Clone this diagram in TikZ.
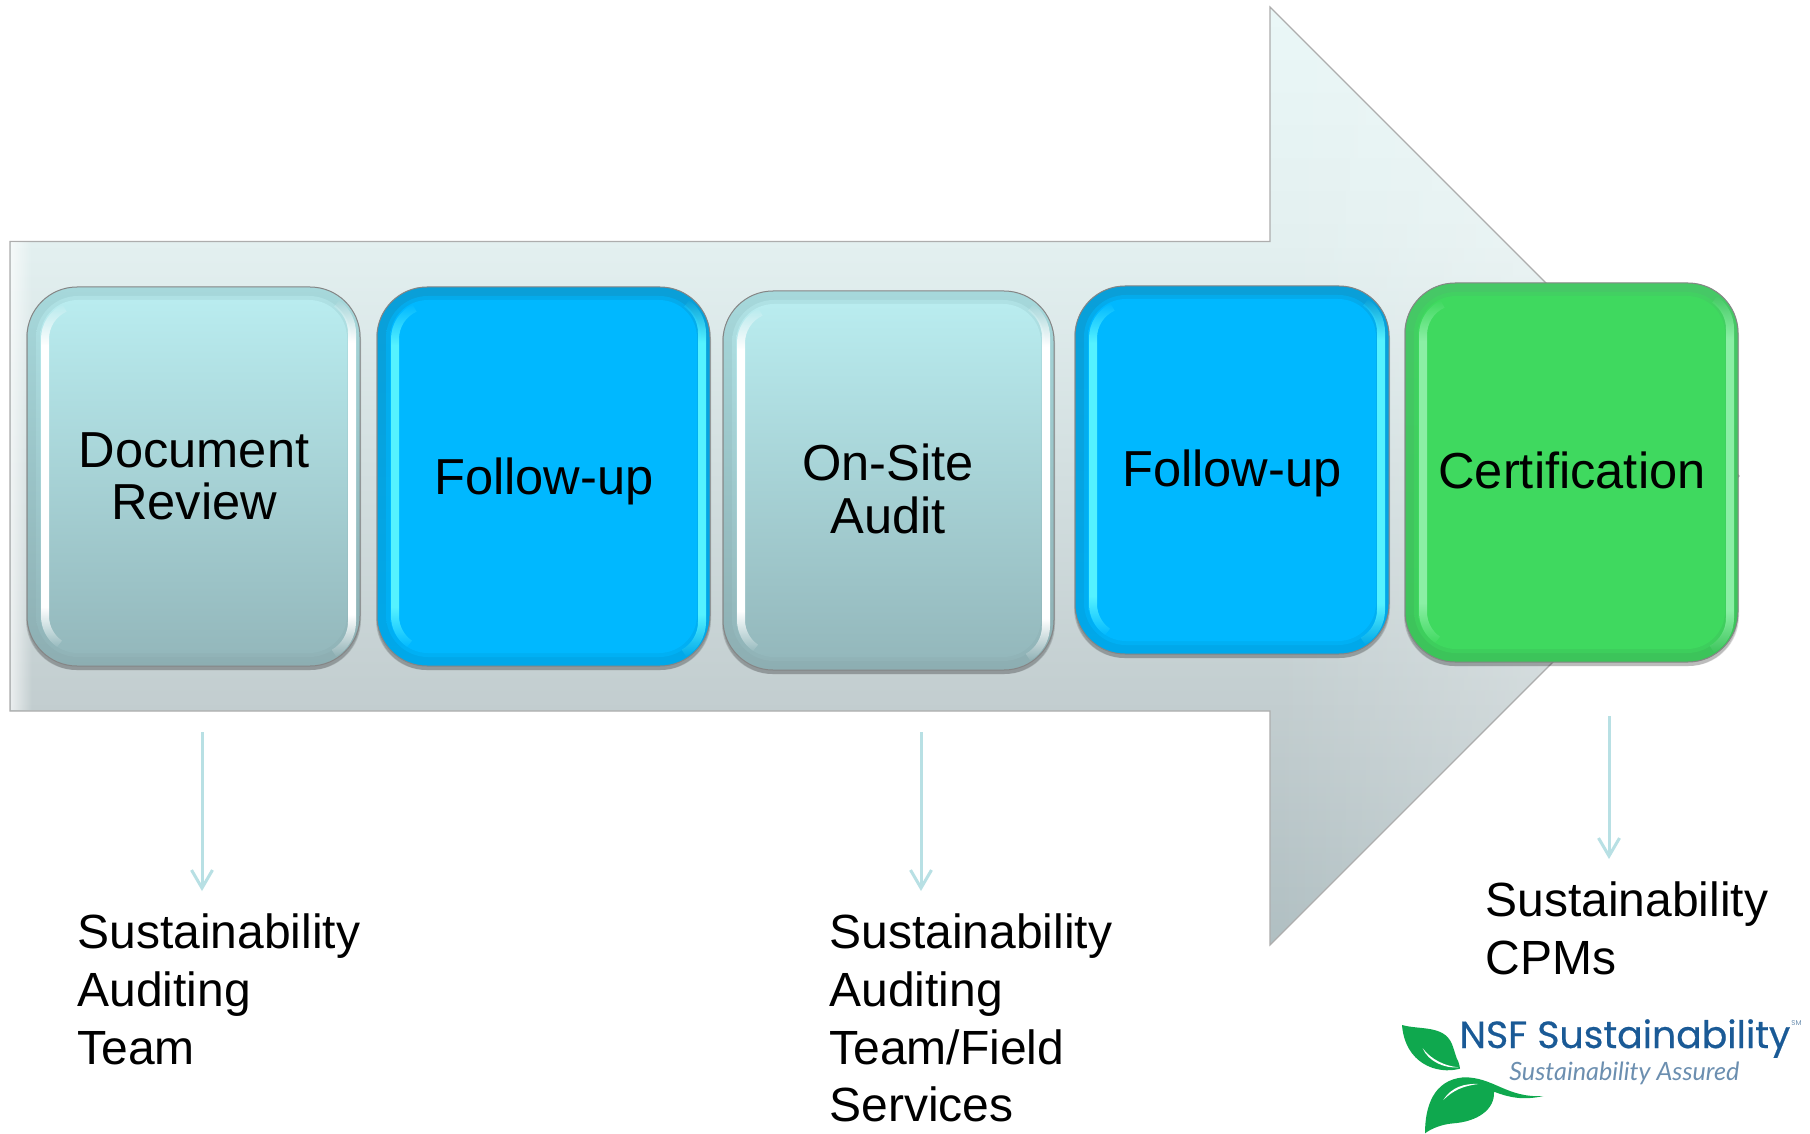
\documentclass[tikz,border=0pt]{standalone}
\usepackage{fontspec}
\setmainfont{Liberation Sans}
\newfontfamily\logofont{Poppins}
\newfontfamily\logoboldfont[FakeBold=0.5]{Poppins}
\newfontfamily\tagfont{Lato}
\usetikzlibrary{fadings,arrows.meta}
\pgfdeclareverticalshading{sideshade}{100bp}{color(0bp)=(pgftransparent!100); color(25bp)=(pgftransparent!100); color(31bp)=(pgftransparent!0); color(69bp)=(pgftransparent!0); color(75bp)=(pgftransparent!100); color(100bp)=(pgftransparent!100)}
\pgfdeclarefading{sidefade}{\pgfuseshading{sideshade}}
\tikzfading[name=headfade,left color=transparent!100,right color=transparent!55]
\tikzfading[name=edgefade,left color=transparent!35,right color=transparent!100]
\definecolor{arrowline}{HTML}{B8E0E4}
\definecolor{leafgreen}{HTML}{0FA84E}
\definecolor{nsfblue}{HTML}{1A5A96}
\definecolor{tagblue}{HTML}{6C8FB0}
\pgfdeclareverticalshading{arrowshade}{100bp}{rgb(0bp)=(0.69,0.749,0.761); rgb(25bp)=(0.69,0.749,0.761); rgb(37.5bp)=(0.761,0.804,0.812); rgb(62.5bp)=(0.89,0.941,0.941); rgb(75bp)=(0.918,0.969,0.969); rgb(100bp)=(0.918,0.969,0.969)}
\definecolor{tealft}{HTML}{B9ECEF}
\definecolor{tealfb}{HTML}{94B8BC}
\definecolor{tealrt}{HTML}{A6D8DB}
\definecolor{tealrb}{HTML}{8DAEB2}
\definecolor{bluef}{HTML}{00B8FF}
\definecolor{bluert}{HTML}{0A9FD8}
\definecolor{bluerb}{HTML}{00A8EA}
\definecolor{blueglow}{HTML}{55F2FF}
\definecolor{greenf}{HTML}{3FD95F}
\definecolor{greenrt}{HTML}{46C866}
\definecolor{greenrb}{HTML}{3CC45A}
\definecolor{greenglow}{HTML}{8BEFA5}
\tikzset{
  x=0.5pt,y=-0.5pt,
  arrowbody/.style={draw=black!32,line width=0.6pt,shading=arrowshade},
  rimbox/.style={inner sep=0pt,rounded corners=25pt,draw=black!48,line width=0.5pt,shading=axis},
  facebox/.style={inner sep=0pt,rounded corners=19pt,shading=axis},
  softbox/.style={inner sep=0pt,rounded corners=21pt,shading=axis,opacity=.5},
  boxshadow/.style={inner sep=0pt,rounded corners=25pt,fill=black,opacity=.14},
  boxlabel/.style={inner sep=0pt,anchor=base,font=\fontsize{25.3}{26}\selectfont,text=black},
  sidelabel/.style={inner sep=0pt,anchor=base west,font=\fontsize{24}{29}\selectfont,text=black},
  downarrow/.style={draw=arrowline,line width=1.5pt,-{Straight Barb[length=9pt,width=10.5pt,line width=1.5pt]}},
  glow/.style={line width=4pt,path fading=sidefade,fit fading=true},
}
\newcommand\bevelbox[9]{%
  \pgfmathsetmacro\bw{(#4-#2)*0.5}\pgfmathsetmacro\bh{(#5-#3)*0.5}%
  \pgfmathsetmacro\cx{(#2+#4)/2}\pgfmathsetmacro\cy{(#3+#5)/2}%
  \pgfmathsetmacro\fw{\bw-13}\pgfmathsetmacro\fh{\bh-13}%
  \pgfmathsetmacro\mw{\bw-9}\pgfmathsetmacro\mh{\bh-9}%
  \node[boxshadow,minimum width=\bw pt,minimum height=\bh pt] (#1s) at (\cx,\cy+4) {};
  \node[boxshadow,minimum width=\bw pt+1pt,minimum height=\bh pt+1pt] (#1ss) at (\cx,\cy+3) {};
  \node[rimbox,minimum width=\bw pt,minimum height=\bh pt,top color=#6,bottom color=#7] (#1) at (\cx,\cy) {};
  \node[softbox,minimum width=\mw pt,minimum height=\mh pt,top color=#8,bottom color=#9] (#1m) at (\cx,\cy) {};
  \node[facebox,minimum width=\fw pt,minimum height=\fh pt,top color=#8,bottom color=#9] (#1f) at (\cx,\cy) {};
}
\newcommand\bevelglow[5]{%
  \draw[glow,draw=#5] (#1+18+34,#4-50) ++(125:34) arc[start angle=125,end angle=180,radius=34] -- (#1+18,#2+52) arc[start angle=180,end angle=245,radius=34];
  \draw[glow,draw=#5] (#3-8-36,#4-44) ++(60:36) arc[start angle=60,end angle=0,radius=36] -- (#3-8,#2+46) arc[start angle=0,end angle=-55,radius=36];
}
\begin{document}
\begin{tikzpicture}
\useasboundingbox (0,0) rectangle (1810,1134);
\fill[white] (0,0) rectangle (1810,1134);

% big arrow
\path[arrowbody] (10,241.5) -- (1270,241.5) -- (1270,7) -- (1739,476) -- (1270,945) -- (1270,711) -- (10,711) -- cycle;
\fill[white,path fading=headfade,fit fading=true] (1271,9) -- (1737,476) -- (1271,943) -- cycle;
\fill[white,path fading=edgefade,fit fading=true] (11,242) rectangle (32,710);

% boxes
\bevelbox{b1}{27}{287}{360}{666}{tealrt}{tealrb}{tealft}{tealfb}
\bevelglow{27}{287}{360}{666}{white}
\bevelbox{b2}{377}{287}{710}{666}{bluert}{bluerb}{bluef}{bluef}
\bevelglow{377}{287}{710}{666}{blueglow}
\bevelbox{b3}{723}{291}{1054}{670}{tealrt}{tealrb}{tealft}{tealfb}
\bevelglow{723}{291}{1054}{670}{white}
\bevelbox{b4}{1075}{286}{1389}{654}{bluert}{bluerb}{bluef}{bluef}
\bevelglow{1075}{286}{1389}{654}{blueglow}
\bevelbox{b5}{1405}{283}{1738}{662}{greenrt}{greenrb}{greenf}{greenf}
\bevelglow{1405}{283}{1738}{662}{greenglow}

% labels in boxes
\node[boxlabel] (t1a) at (194,467) {Document};
\node[boxlabel] (t1b) at (194,519) {Review};
\node[boxlabel] (t2) at (544,494) {Follow-up};
\node[boxlabel] (t3a) at (888,480) {On-Site};
\node[boxlabel] (t3b) at (888,533) {Audit};
\node[boxlabel] (t4) at (1232,486) {Follow-up};
\node[boxlabel] (t5) at (1572,488) {Certification};

% connectors
\coordinate (a1s) at (202,732); \coordinate (a1e) at (202,891);
\coordinate (a2s) at (921,732); \coordinate (a2e) at (921,891);
\coordinate (a3s) at (1609,716); \coordinate (a3e) at (1609,859);
\draw[downarrow] (a1s) -- (a1e);
\draw[downarrow] (a2s) -- (a2e);
\draw[downarrow] (a3s) -- (a3e);

% side labels
\node[sidelabel] (s1a) at (77,948) {Sustainability};
\node[sidelabel] (s1b) at (77,1006) {Auditing};
\node[sidelabel] (s1c) at (77,1064) {Team};
\node[sidelabel] (s2a) at (829,948) {Sustainability};
\node[sidelabel] (s2b) at (829,1006) {Auditing};
\node[sidelabel] (s2c) at (829,1064) {Team/Field};
\node[sidelabel] (s2d) at (829,1121) {Services};
\node[sidelabel] (s3a) at (1485,916) {Sustainability};
\node[sidelabel] (s3b) at (1485,974) {CPMs};

% logo
\begin{scope}[shift={(1380,980)},scale=1/3]
  \fill[leafgreen] (66,135) .. controls (120,150) and (190,135) .. (215,190) .. controls (225,215) and (228,235) .. (235,245) .. controls (238,255) and (240,262) .. (240,266) .. controls (170,285) and (75,250) .. (66,135) -- cycle;
  \fill[white] (128,205) .. controls (155,240) and (195,258) .. (236,262) .. controls (195,266) and (145,245) .. (128,205) -- cycle;
  \fill[leafgreen] (135,460) .. controls (135,380) and (160,300) .. (250,292) .. controls (340,290) and (380,355) .. (490,348) .. controls (430,362) and (385,352) .. (342,335) .. controls (345,390) and (290,425) .. (220,430) .. controls (185,433) and (155,445) .. (135,460) -- cycle;
  \fill[white] (190,360) .. controls (215,320) and (255,310) .. (295,312) .. controls (250,318) and (220,330) .. (190,360) -- cycle;
\end{scope}
\node[inner sep=0pt,anchor=base west,text=nsfblue,font=\logoboldfont\fontsize{18.9}{20}\selectfont] (nsf) at (1459,1048) {NSF Sustainability};
\node[inner sep=0pt,anchor=base west,text=tagblue,font=\tagfont\itshape\fontsize{12.6}{14}\selectfont] (tag) at (1509,1080) {Sustainability Assured};
\node[inner sep=0pt,anchor=base west,text=tagblue,font=\logofont\fontsize{3.5}{4}\selectfont] (sm) at (1791,1025) {SM};
\end{tikzpicture}
\end{document}
